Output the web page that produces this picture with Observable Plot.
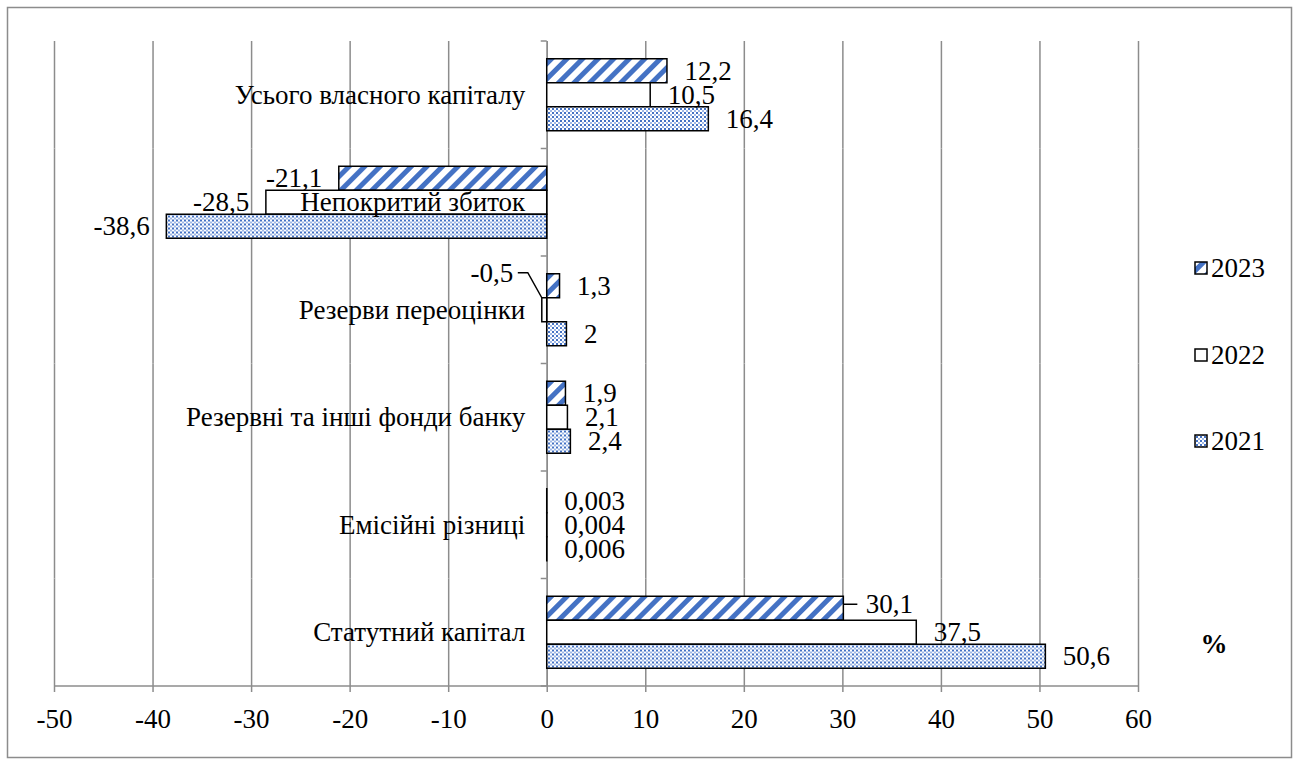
<!DOCTYPE html>
<html>
<head>
<meta charset="utf-8">
<script src="https://cdn.jsdelivr.net/npm/d3@7"></script>
<script src="https://cdn.jsdelivr.net/npm/@observablehq/plot@0.6"></script>
<style>
  html, body { margin: 0; padding: 0; background: #fff; }
  #chart { width: 1298px; height: 764px; }
  #chart svg text { font-family: "Liberation Serif", serif !important; }
</style>
</head>
<body>
<div id="chart"></div>
<script>
// ---- data ----
const categories = [
  "Усього власного капіталу",
  "Непокритий збиток",
  "Резерви переоцінки",
  "Резервні та інші фонди банку",
  "Емісійні різниці",
  "Статутний капітал"
];
const years = ["2023", "2022", "2021"];
const values2023 = [12.2, -21.1, 1.3, 1.9, 0.003, 30.1];
const values2022 = [10.5, -28.5, -0.5, 2.1, 0.004, 37.5];
const values2021 = [16.4, -38.6, 2, 2.4, 0.006, 50.6];
const xTicks = [-50, -40, -30, -20, -10, 0, 10, 20, 30, 40, 50, 60];
const unitLabel = "%";

(function () {
// ---- build table ----
const seriesByYear = { "2023": values2023, "2022": values2022, "2021": values2021 };
const data = [];
for (const year of years) {
  categories.forEach((category, i) => {
    const value = seriesByYear[year][i];
    data.push({ category, year, value, label: String(value).replace(".", ",") });
  });
}
const fills = { "2023": "url(#pat2023)", "2022": "#ffffff", "2021": "url(#pat2021)" };

const FONT = "Liberation Serif";
const FS = 27;
const GRID = "#8c8c8c";

// special label handling (moved labels in the original)
const isMoved = d => d.year === "2022" && d.category === "Резерви переоцінки";
const isLead = d => d.year === "2023" && d.category === "Статутний капітал";

const W = 1298, H = 764;
const mL = 54, mR = 160, mT = 41, mB = 78;

const plot = Plot.plot({
  width: W,
  height: H,
  marginLeft: mL,
  marginRight: mR,
  marginTop: mT,
  marginBottom: mB,
  style: { fontFamily: FONT, fontSize: FS + "px", color: "#000", background: "#fff", overflow: "visible" },
  x: { domain: [-50, 60], label: null },
  y: { domain: years, paddingInner: 0, paddingOuter: 0.74, round: false, axis: null },
  fy: { domain: categories, padding: 0, round: false, axis: null, label: null },
  marks: [
    Plot.gridX(xTicks, { stroke: GRID, strokeOpacity: 1, strokeWidth: 1.5 }),
    Plot.ruleX([0], { stroke: GRID, strokeWidth: 1.5 }),
    ...years.map(year =>
      Plot.barX(data.filter(d => d.year === year), {
        x: "value", y: "year", fy: "category",
        fill: fills[year], stroke: "#000", strokeWidth: 1.5, insetTop: 0, insetBottom: 0
      })
    ),
    Plot.text(categories, {
      fy: d => d, x: () => 0, text: d => d,
      textAnchor: "end", dx: -22, fill: "#000", fontSize: FS
    }),
    Plot.text(data.filter(d => d.value >= 0 && !isLead(d)), {
      x: "value", y: "year", fy: "category", text: "label",
      textAnchor: "start", dx: 17, fill: "#000", fontSize: FS
    }),
    Plot.text(data.filter(d => isLead(d)), {
      x: "value", y: "year", fy: "category", text: "label",
      textAnchor: "start", dx: 22, dy: -4, fill: "#000", fontSize: FS
    }),
    Plot.text(data.filter(d => d.value < 0 && !isMoved(d)), {
      x: "value", y: "year", fy: "category", text: "label",
      textAnchor: "end", dx: -17, fill: "#000", fontSize: FS
    }),
    Plot.text(data.filter(d => isMoved(d)), {
      x: "value", y: "year", fy: "category", text: "label",
      textAnchor: "end", dx: -29, dy: -37, fill: "#000", fontSize: FS
    }),
    Plot.axisX(xTicks, {
      anchor: "bottom", tickSize: 6, tickPadding: 16, stroke: GRID, strokeWidth: 1.5,
      tickFormat: d => String(d), fill: "#000", fontSize: FS
    })
  ]
});

document.getElementById("chart").appendChild(plot);

// ---- post render decorations using the plot's scales ----
const svg = d3.select(plot);
const xs = plot.scale("x");
const fys = plot.scale("fy");
const ys = plot.scale("y");
const BLUE = "#4472c4";

const defs = svg.insert("defs", ":first-child");
const p1 = defs.append("pattern").attr("id", "pat2023").attr("patternUnits", "userSpaceOnUse")
  .attr("width", 11).attr("height", 11).attr("patternTransform", "rotate(45)");
p1.append("rect").attr("width", 11).attr("height", 11).attr("fill", "#fff");
p1.append("rect").attr("width", 5).attr("height", 11).attr("fill", BLUE);
const p2 = defs.append("pattern").attr("id", "pat2021").attr("patternUnits", "userSpaceOnUse")
  .attr("width", 4).attr("height", 4);
p2.append("rect").attr("width", 4).attr("height", 4).attr("fill", "#fff");
p2.append("rect").attr("width", 2).attr("height", 2).attr("fill", BLUE);
p2.append("rect").attr("x", 2).attr("y", 2).attr("width", 2).attr("height", 2).attr("fill", "#9fb8e6");

const x0 = xs.apply(0);
const plotBottom = H - mB;
// position of a bar's top edge in page coordinates
const barTop = (cat, year) => fys.apply(cat) + ys.apply(year) - mT;

// x axis line
svg.append("line").attr("x1", xs.apply(-50)).attr("x2", xs.apply(60))
  .attr("y1", plotBottom).attr("y2", plotBottom).attr("stroke", GRID).attr("stroke-width", 1.5);

// category separators on zero axis
const bounds = categories.map(c => fys.apply(c));
bounds.push(plotBottom);
bounds.forEach(b => {
  svg.append("line").attr("x1", x0 - 6).attr("x2", x0).attr("y1", b).attr("y2", b)
    .attr("stroke", GRID).attr("stroke-width", 1.5);
});

// leader line for moved label (-0,5)
{
  const by = barTop("Резерви переоцінки", "2022");
  const bx = xs.apply(-0.5);
  const ly = by + ys.bandwidth / 2 - 37;
  svg.append("polyline")
    .attr("points", `${bx - 24},${ly} ${bx - 14},${ly} ${bx},${by}`)
    .attr("fill", "none").attr("stroke", "#000").attr("stroke-width", 1.5);
}
// short leader for 30,1
{
  const by = barTop("Статутний капітал", "2023") + ys.bandwidth / 2 - 4;
  const bx = xs.apply(30.1);
  svg.append("line").attr("x1", bx).attr("x2", bx + 14).attr("y1", by).attr("y2", by)
    .attr("stroke", "#000").attr("stroke-width", 1.5);
}

// legend
const legendY = { "2023": 268, "2022": 355, "2021": 441 };
years.forEach(year => {
  const g = svg.append("g");
  g.append("rect").attr("x", 1195).attr("y", legendY[year] - 6).attr("width", 12).attr("height", 12)
    .attr("fill", fills[year]).attr("stroke", "#000").attr("stroke-width", 1.5);
  g.append("text").attr("x", 1211).attr("y", legendY[year]).attr("dy", "0.35em")
    .attr("text-anchor", "start")
    .attr("font-family", FONT).attr("font-size", FS).attr("fill", "#000").text(year);
});

// unit label
svg.append("text").attr("x", 1214).attr("y", 644).attr("dy", "0.35em").attr("text-anchor", "middle")
  .attr("font-family", FONT).attr("font-size", FS).attr("font-weight", "bold").attr("fill", "#000")
  .text(unitLabel);

// outer border
svg.append("rect").attr("x", 7.5).attr("y", 7.5).attr("width", 1284).attr("height", 750)
  .attr("fill", "none").attr("stroke", GRID).attr("stroke-width", 1.5);
})();
</script>
</body>
</html>
